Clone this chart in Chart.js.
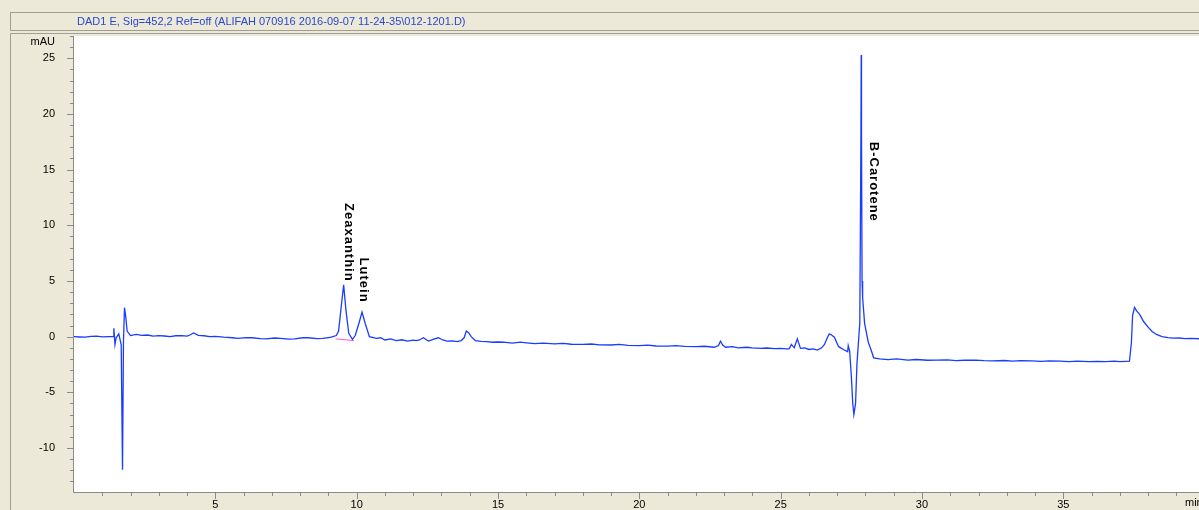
<!DOCTYPE html>
<html>
<head>
    <title>DAD1 E chromatogram</title>
    <script src="https://cdn.jsdelivr.net/npm/chart.js"></script>
    <style>
        body {
            margin: 0;
            background-color: #ECE9D8;
            overflow: hidden;
        }
    </style>
</head>
<body>
    <canvas id="chrom" width="1199" height="510"></canvas>

    <script>
        // Retention time (min) and absorbance (mAU)
        const times = [
            0, 0.2, 0.4, 0.6, 0.8, 1.0, 1.2, 1.38, 1.41, 1.45, 1.49, 1.585, 1.67, 1.716, 1.75, 1.786, 1.83, 1.88,
            2.0, 2.2, 2.4, 2.6, 2.8, 3.0, 3.2, 3.4, 3.6, 3.8, 4.0, 4.1, 4.23, 4.4, 4.6, 4.8, 5.0, 5.3, 5.6,
            5.8, 6.1, 6.3, 6.6, 6.8, 7.1, 7.3, 7.6, 7.8, 8.1, 8.3, 8.6, 8.8, 9.0,
            9.1, 9.28, 9.36, 9.45, 9.54, 9.62, 9.72, 9.85, 9.95, 10.08, 10.19, 10.3, 10.45, 10.7, 10.85,
            11.0, 11.2, 11.4, 11.6, 11.8, 12.0, 12.1, 12.22, 12.36, 12.48, 12.55, 12.7, 12.89, 13.05, 13.2, 13.4,
            13.55, 13.7, 13.8, 13.88, 13.96, 14.05, 14.2, 14.4, 14.6, 14.8,
            15.0, 15.2, 15.5, 15.8, 16.0, 16.3, 16.6, 17.0, 17.3, 17.6, 18.0, 18.3, 18.6, 19.0, 19.3, 19.6,
            20.0, 20.3, 20.6, 21.0, 21.3, 21.6, 22.0, 22.3, 22.65, 22.8, 22.87, 22.95, 23.05, 23.3, 23.5, 23.8,
            24.0, 24.3, 24.5, 24.8, 25.0, 25.2, 25.3, 25.38, 25.48, 25.59, 25.7, 25.85, 26.0, 26.15, 26.3, 26.45,
            26.55, 26.65, 26.72, 26.8, 26.9, 27.05, 27.25,
            27.37, 27.39, 27.44, 27.5, 27.55, 27.59, 27.65, 27.7, 27.8, 27.84, 27.85, 27.86, 27.88,
            27.9, 27.97, 28.1, 28.2, 28.29, 28.5, 28.8, 29.1, 29.5, 29.8, 30.2, 30.5, 30.9, 31.2, 31.5, 31.9,
            32.2, 32.5, 32.9, 33.2, 33.5, 33.9, 34.2, 34.5, 34.9, 35.2, 35.5, 35.9, 36.2, 36.5, 36.8,
            37.0, 37.2, 37.34, 37.41, 37.45, 37.52, 37.6, 37.7, 37.84, 38.0, 38.14, 38.3, 38.49, 38.7, 38.89,
            39.1, 39.3, 39.5, 39.8
        ];
        const mAU = [
            0, -0.03, -0.05, 0.02, 0.05, -0.02, 0, 0, 0.75, -0.7, -0.1, 0.25, -0.73, -11.95, -0.5, 2.6, 1.8, 0.5,
            0.1, 0.2, 0.12, 0.15, 0.05, 0.1, 0.06, 0.0, 0.08, 0.1, 0.05, 0.15, 0.33, 0.12, 0.08, 0.0, 0.02, -0.05, -0.1,
            -0.15, -0.08, -0.1, -0.18, -0.2, -0.12, -0.15, -0.22, -0.2, -0.1, -0.1, -0.18, -0.15, -0.08,
            -0.05, 0.1, 0.5, 2.6, 4.66, 2.4, 0.3, -0.25, 0.1, 1.2, 2.2, 1.2, 0, -0.15, -0.1,
            -0.3, -0.2, -0.35, -0.28, -0.4, -0.32, -0.35, -0.3, -0.1, -0.3, -0.4, -0.25, -0.1, -0.3, -0.4, -0.38,
            -0.45, -0.35, -0.1, 0.5, 0.35, 0.0, -0.35, -0.42, -0.45, -0.5,
            -0.48, -0.5, -0.58, -0.5, -0.55, -0.62, -0.58, -0.65, -0.6, -0.68, -0.7, -0.66, -0.74, -0.75, -0.7, -0.78,
            -0.8, -0.76, -0.84, -0.85, -0.8, -0.88, -0.9, -0.86, -0.95, -0.8, -0.4, -0.75, -0.95, -0.9, -1.0, -0.95,
            -1.0, -1.05, -1.02, -1.08, -1.05, -1.1, -1.1, -0.7, -1.0, -0.2, -1.05, -1.0, -1.15, -1.1, -1.2, -1.0,
            -0.7, -0.1, 0.25, 0.15, -0.05, -0.9, -1.2,
            -1.35, -0.8, -1.27, -3.5, -6.0, -7.0, -6.0, -2.4, 1.25, 18.0, 25.3, 18.0, 5.0,
            3.5, 1.2, -0.5, -1.2, -1.9, -2.0, -2.07, -2.0, -2.1, -2.05, -2.12, -2.1, -2.08, -2.15, -2.12, -2.1,
            -2.15, -2.18, -2.14, -2.2, -2.15, -2.18, -2.22, -2.18, -2.2, -2.24, -2.2, -2.25, -2.22, -2.25, -2.2,
            -2.25, -2.22, -2.2, -0.5, 1.9, 2.62, 2.3, 2.0, 1.36, 0.85, 0.47, 0.2, 0, -0.08, -0.13,
            -0.12, -0.17, -0.15, -0.19
        ];

        // Integration baseline under Zeaxanthin
        const baseTimes = [9.25, 9.9];
        const baseValues = [-0.2, -0.35];

        // Peak names and where their text starts (min, mAU)
        const peakNames = ['Zeaxanthin', 'Lutein', 'B-Carotene'];
        const peakTimes = [9.71, 10.24, 28.28];
        const peakLabelY = [12.0, 7.1, 17.5];

        const title = 'DAD1 E, Sig=452,2 Ref=off (ALIFAH 070916 2016-09-07 11-24-35\\012-1201.D)';

        const xMin = 0, xMax = 39.8;
        const yMin = -13.95, yMax = 27.0;

        const trace = times.map((t, i) => ({ x: t, y: mAU[i] }));
        const baseline = baseTimes.map((t, i) => ({ x: t, y: baseValues[i] }));

        // Draws the ChemStation-like frame, tick marks and peak names
        const framePlugin = {
            id: 'frame',
            beforeDraw(chart) {
                const { ctx, chartArea: a } = chart;
                const W = chart.width, H = chart.height;
                ctx.save();
                ctx.fillStyle = '#ECE9D8';
                ctx.fillRect(0, 0, W, H);

                // header bar
                ctx.strokeStyle = '#a19f93';
                ctx.lineWidth = 1;
                ctx.strokeRect(10.5, 12.5, W, 18);
                ctx.fillStyle = '#2a48cc';
                ctx.font = '11px Arial';
                ctx.textBaseline = 'middle';
                ctx.textAlign = 'left';
                ctx.fillText(title, 77, 22);

                // plot panel
                ctx.beginPath();
                ctx.moveTo(10.5, H);
                ctx.lineTo(10.5, 33.5);
                ctx.lineTo(W, 33.5);
                ctx.stroke();

                ctx.fillStyle = '#ffffff';
                ctx.fillRect(a.left, a.top, W - a.left, a.bottom - a.top);
                ctx.restore();
            },
            afterDraw(chart) {
                const { ctx, chartArea: a, scales } = chart;
                const xs = scales.x, ys = scales.y;
                ctx.save();
                ctx.strokeStyle = '#8a8a8a';
                ctx.lineWidth = 1;

                // axis lines
                ctx.beginPath();
                ctx.moveTo(a.left - 0.5, a.top);
                ctx.lineTo(a.left - 0.5, a.bottom + 0.5);
                ctx.lineTo(chart.width, a.bottom + 0.5);
                ctx.stroke();

                // y ticks
                ctx.beginPath();
                for (let v = Math.ceil(yMin); v <= Math.floor(yMax); v++) {
                    const py = Math.round(ys.getPixelForValue(v)) + 0.5;
                    const len = v % 5 === 0 ? 7 : 4;
                    ctx.moveTo(a.left - len, py);
                    ctx.lineTo(a.left, py);
                }
                // x ticks
                for (let v = 1; v <= Math.floor(xMax); v++) {
                    const px = Math.round(xs.getPixelForValue(v)) + 0.5;
                    const len = v % 5 === 0 ? 6 : 3;
                    ctx.moveTo(px, a.bottom + 1);
                    ctx.lineTo(px, a.bottom + 1 + len);
                }
                ctx.stroke();

                // unit labels
                ctx.fillStyle = '#000';
                ctx.font = '11px Arial';
                ctx.textBaseline = 'middle';
                ctx.textAlign = 'right';
                ctx.fillText('mAU', 55, 42);
                ctx.textAlign = 'left';
                ctx.fillText('min', 1185, 503);

                // peak names, rotated clockwise
                ctx.font = 'bold 13px Arial';
                ctx.letterSpacing = '1px';
                peakNames.forEach((name, i) => {
                    const px = xs.getPixelForValue(peakTimes[i]);
                    const py = ys.getPixelForValue(peakLabelY[i]);
                    ctx.save();
                    ctx.translate(px, py);
                    ctx.rotate(Math.PI / 2);
                    ctx.textAlign = 'left';
                    ctx.textBaseline = 'middle';
                    ctx.fillText(name, 0, 0);
                    ctx.restore();
                });
                ctx.restore();
            }
        };

        const ctx = document.getElementById('chrom').getContext('2d');
        const chart = new Chart(ctx, {
            type: 'line',
            data: {
                datasets: [
                    {
                        label: 'DAD1 E',
                        data: trace,
                        borderColor: '#1a3cff',
                        borderWidth: 1.3,
                        pointRadius: 0,
                        tension: 0
                    },
                    {
                        label: 'baseline',
                        data: baseline,
                        borderColor: '#ff55dd',
                        borderWidth: 1,
                        pointRadius: 0
                    }
                ]
            },
            options: {
                responsive: false,
                animation: false,
                devicePixelRatio: 1,
                layout: { padding: { top: 36, left: 0, right: 0, bottom: 0 } },
                plugins: {
                    legend: { display: false },
                    tooltip: { enabled: false }
                },
                scales: {
                    x: {
                        type: 'linear',
                        min: xMin,
                        max: xMax,
                        grid: { display: false, tickLength: 6 },
                        border: { display: false },
                        ticks: {
                            stepSize: 1,
                            autoSkip: false,
                            includeBounds: false,
                            maxRotation: 0,
                            padding: 0,
                            color: '#000',
                            font: { family: 'Arial', size: 11 },
                            callback: v => (v > 0 && v % 5 === 0) ? v : ''
                        },
                        afterFit: s => { s.height = 18; }
                    },
                    y: {
                        min: yMin,
                        max: yMax,
                        grid: { display: false },
                        border: { display: false },
                        ticks: {
                            stepSize: 1,
                            autoSkip: false,
                            includeBounds: false,
                            padding: 11,
                            color: '#000',
                            font: { family: 'Arial', size: 11 },
                            callback: v => (v % 5 === 0) ? v : ''
                        },
                        afterFit: s => { s.width = 74; }
                    }
                }
            },
            plugins: [framePlugin]
        });
    </script>
</body>
</html>
